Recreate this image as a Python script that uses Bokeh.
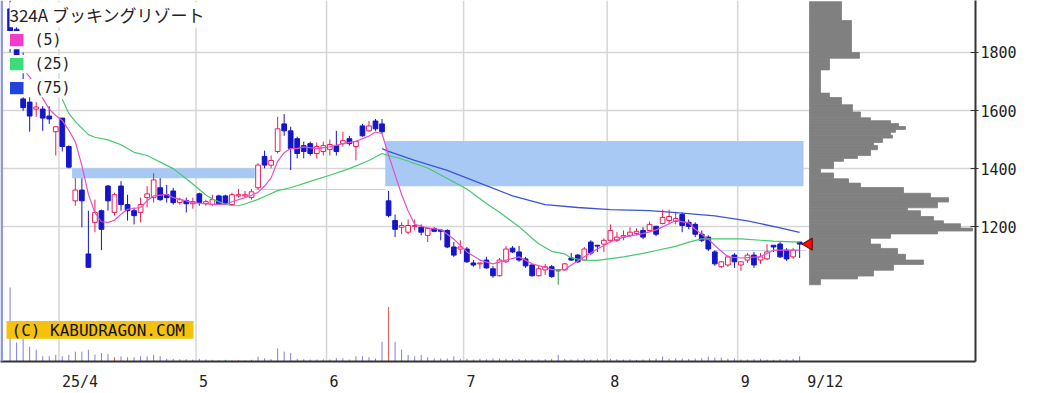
import math
from bokeh.plotting import figure
from bokeh.models import Range1d, FixedTicker, Label, Span, ColumnDataSource
from bokeh.embed import file_html
from bokeh.resources import INLINE
from bokeh.core.properties import value

# ---------------- data ----------------
TITLE = "324A ブッキングリゾート"
LEGEND_LABELS = ["(5)", "(25)", "(75)"]
COPYRIGHT = "(C) KABUDRAGON.COM"

opens = [1950, 1880, 1640, 1629, 1605, 1605, 1581, 1527, 1574, 1476,
         1289, 1326, 1106, 1215, 1255, 1340, 1249, 1340, 1276, 1255,
         1249, 1300, 1300, 1334, 1310, 1323, 1283, 1290, 1279, 1313,
         1279, 1276, 1306, 1306, 1276, 1306, 1306, 1300, 1334, 1442,
         1412, 1459, 1554, 1530, 1503, 1479, 1486, 1452, 1459, 1466,
         1479, 1486, 1503, 1476, 1547, 1530, 1564, 1554, 1289, 1221,
         1198, 1181, 1201, 1198, 1170, 1194, 1188, 1187, 1130, 1123,
         1123, 1075, 1072, 1085, 1055, 1031, 1079, 1126, 1113, 1089,
         1068, 1031, 1051, 1062, 1048, 1051, 1092, 1102, 1085, 1147,
         1136, 1140, 1153, 1153, 1164, 1170, 1177, 1187, 1187, 1201,
         1211, 1221, 1218, 1242, 1215, 1208, 1174, 1164, 1113, 1062,
         1068, 1102, 1068, 1085, 1102, 1085, 1089, 1136, 1140, 1119,
         1096, 1147]
highs = [1979, 1900, 1800, 1646, 1629, 1615, 1615, 1547, 1574, 1480,
         1367, 1367, 1255, 1293, 1259, 1344, 1317, 1357, 1310, 1266,
         1300, 1340, 1384, 1367, 1344, 1334, 1300, 1300, 1300, 1317,
         1293, 1310, 1310, 1310, 1317, 1330, 1323, 1330, 1418, 1462,
         1445, 1578, 1588, 1544, 1510, 1493, 1493, 1490, 1493, 1500,
         1530, 1527, 1513, 1496, 1554, 1564, 1571, 1571, 1323, 1242,
         1215, 1225, 1225, 1208, 1198, 1198, 1188, 1191, 1147, 1153,
         1130, 1085, 1075, 1096, 1065, 1092, 1133, 1133, 1133, 1096,
         1072, 1065, 1072, 1068, 1050, 1075, 1109, 1106, 1130, 1153,
         1136, 1160, 1208, 1181, 1187, 1198, 1194, 1198, 1218, 1204,
         1259, 1259, 1252, 1249, 1225, 1215, 1187, 1170, 1119, 1082,
         1102, 1109, 1082, 1109, 1113, 1109, 1140, 1136, 1147, 1126,
         1126, 1147]
lows = [1800, 1760, 1599, 1527, 1578, 1530, 1554, 1445, 1459, 1401,
        1272, 1198, 1058, 1181, 1119, 1255, 1238, 1255, 1221, 1208,
        1215, 1266, 1283, 1289, 1283, 1276, 1276, 1249, 1262, 1272,
        1272, 1272, 1276, 1276, 1272, 1300, 1300, 1293, 1327, 1401,
        1401, 1452, 1513, 1395, 1435, 1435, 1445, 1435, 1445, 1445,
        1445, 1476, 1479, 1428, 1510, 1527, 1530, 1520, 1232, 1164,
        1174, 1174, 1187, 1170, 1147, 1181, 1153, 1126, 1096, 1106,
        1075, 1062, 1055, 1055, 1024, 1028, 1075, 1109, 1079, 1058,
        1028, 1028, 1034, 1024, 1000, 1048, 1082, 1075, 1082, 1102,
        1113, 1113, 1147, 1147, 1153, 1164, 1170, 1157, 1181, 1167,
        1208, 1208, 1208, 1181, 1191, 1164, 1147, 1116, 1065, 1058,
        1062, 1058, 1048, 1075, 1058, 1072, 1085, 1113, 1092, 1082,
        1089, 1092]
closes = [1830, 1790, 1610, 1581, 1612, 1574, 1571, 1544, 1476, 1405,
          1326, 1289, 1060, 1249, 1191, 1289, 1310, 1276, 1255, 1238,
          1276, 1313, 1361, 1293, 1300, 1283, 1293, 1279, 1286, 1283,
          1286, 1293, 1279, 1279, 1310, 1310, 1310, 1320, 1412, 1412,
          1428, 1537, 1530, 1469, 1452, 1459, 1452, 1476, 1479, 1483,
          1459, 1496, 1486, 1493, 1513, 1547, 1537, 1527, 1238, 1191,
          1204, 1204, 1204, 1181, 1194, 1184, 1184, 1130, 1102, 1130,
          1079, 1068, 1075, 1058, 1031, 1085, 1123, 1113, 1085, 1065,
          1031, 1055, 1062, 1028, 1048, 1072, 1085, 1079, 1123, 1109,
          1133, 1153, 1187, 1164, 1170, 1181, 1184, 1164, 1208, 1174,
          1232, 1235, 1228, 1204, 1201, 1174, 1153, 1123, 1072, 1079,
          1096, 1079, 1079, 1102, 1068, 1096, 1113, 1130, 1096, 1089,
          1119, 1140]
# daily volume (thousand shares)
volumes = [750, 193, 250, 150, 120, 53, 53, 67, 53, 67,
           100, 100, 120, 70, 87, 77, 43, 53, 43, 43,
           53, 53, 67, 53, 27, 27, 23, 23, 20, 27,
           20, 17, 13, 17, 10, 13, 10, 17, 50, 33,
           23, 133, 100, 87, 27, 23, 20, 20, 23, 20,
           33, 33, 20, 53, 53, 43, 30, 200, 553, 200,
           120, 67, 53, 67, 43, 30, 30, 30, 53, 27,
           27, 20, 27, 23, 30, 30, 27, 23, 27, 23,
           20, 20, 23, 27, 67, 27, 20, 23, 27, 20,
           23, 20, 27, 23, 20, 23, 17, 20, 27, 30,
           50, 27, 33, 30, 27, 30, 33, 50, 40, 40,
           27, 30, 20, 20, 23, 27, 20, 17, 23, 20,
           27, 53]
vol_red_days = [16, 32, 35, 36, 58, 121]

month_start_idx = [8, 29, 49, 70, 92, 112]
month_labels = ["25/4", "5", "6", "7", "8", "9"]
last_label = "9/12"
price_ticks = [1200, 1400, 1600, 1800]

ma5_idx = [2, 3, 5, 6, 7, 8, 9, 10, 11, 12, 13, 14, 15, 16, 17, 18, 20, 21, 22, 24,
           25, 27, 28, 30, 31, 33, 34, 36, 37, 38, 39, 40, 41, 42, 43, 44, 45, 47, 49, 51,
           53, 55, 56, 57, 58, 59, 60, 61, 62, 64, 66, 67, 68, 70, 72, 74, 76, 78, 80, 82,
           83, 85, 86, 88, 90, 92, 94, 97, 99, 101, 102, 104, 105, 107, 108, 110, 112, 115,
           117, 119, 121]
ma5_val = [1743, 1716, 1642, 1605, 1583, 1566, 1532, 1492, 1410, 1312, 1248, 1217, 1215,
           1222, 1243, 1260, 1266, 1290, 1306, 1311, 1300, 1289, 1283, 1279, 1277, 1277,
           1286, 1300, 1308, 1318, 1340, 1368, 1425, 1455, 1469, 1469, 1475, 1469, 1475,
           1486, 1494, 1512, 1526, 1520, 1447, 1379, 1311, 1254, 1208, 1196, 1190, 1174,
           1157, 1113, 1085, 1072, 1085, 1096, 1072, 1060, 1052, 1052, 1068, 1096, 1123,
           1147, 1164, 1176, 1189, 1210, 1221, 1213, 1191, 1157, 1135, 1096, 1092, 1097,
           1119, 1119, 1119]
ma25_idx = [8, 9, 10, 12, 13, 15, 17, 19, 21, 22, 24, 25, 27, 28, 30, 31, 33, 34, 35, 36,
            38, 39, 41, 43, 46, 49, 52, 55, 57, 58, 60, 64, 70, 73, 75, 78, 80, 81, 83, 85,
            86, 88, 90, 92, 94, 97, 99, 102, 104, 106, 112, 117, 121]
ma25_val = [1639, 1590, 1562, 1517, 1508, 1499, 1482, 1456, 1445, 1434, 1411, 1400, 1365,
            1347, 1309, 1295, 1277, 1273, 1272, 1278, 1294, 1304, 1324, 1334, 1356, 1377,
            1400, 1428, 1452, 1445, 1433, 1402, 1330, 1280, 1250, 1200, 1160, 1141, 1115,
            1106, 1092, 1085, 1084, 1090, 1096, 1108, 1118, 1132, 1147, 1158, 1158, 1150,
            1147]
ma75_idx = [57, 58, 62, 67, 72, 77, 82, 87, 92, 98, 103, 108, 113, 118, 121]
ma75_val = [1469, 1459, 1428, 1394, 1350, 1306, 1276, 1266, 1259, 1255, 1247, 1237, 1220,
            1196, 1180]

# price gaps ("windows")
win_x0 = [9.5, 37.5, 57.5, 108]
win_x1 = [37.5, 57.5, 121.6, 122]
win_lo = [1367, 1326, 1339, 1116]
win_hi = [1401, 1330, 1495, 1120]
win_color = ["#a9c9f5", "#f2bcd4", "#a9c9f5", "#c4d4ec"]

# volume-at-price profile (bin edges, volume in thousand shares)
vp_edges = [1000, 1020, 1030, 1050, 1070, 1085, 1105, 1125, 1140, 1160, 1175, 1185, 1195,
            1210, 1220, 1235, 1255, 1265, 1285, 1300, 1315, 1335, 1350, 1365, 1385, 1400,
            1425, 1435, 1445, 1465, 1480, 1490, 1505, 1515, 1525, 1535, 1545, 1555, 1565,
            1575, 1595, 1620, 1645, 1660, 1740, 1780, 1800, 1910, 1975]
vp_volume = [110, 480, 640, 840, 1140, 960, 880, 710, 610, 810, 1280, 1630, 1510, 1340,
             1240, 1110, 980, 1280, 1390, 1210, 940, 510, 390, 240, 110, 240, 340, 480,
             610, 680, 640, 730, 830, 810, 860, 960, 890, 810, 610, 510, 430, 320, 200,
             110, 200, 500, 420, 320]

# ---------------- layout ----------------
W, H = 1049, 393
FRAME_W, FRAME_H = 975, 366
X0, X1 = -1.47, 147.95
Y0, Y1 = 735.6, 1979.0
PX = FRAME_W / (X1 - X0)


def xi(px):
    return X0 + px / PX


def yp(py):
    return Y1 - py * (Y1 - Y0) / FRAME_H


UP = "#e61e55"
DOWN = "#1515c8"
DOJI = "#2e9a3a"
C5, C25, C75 = "#e651c8", "#45c870", "#3a55d8"
MONO = "DejaVu Sans Mono"

p = figure(width=W, height=H, x_range=Range1d(X0, X1), y_range=Range1d(Y0, Y1),
           y_axis_location="right", output_backend="svg", toolbar_location=None,
           min_border_left=0, min_border_top=0, min_border_bottom=H - FRAME_H,
           min_border_right=W - FRAME_W, title=None)
p.outline_line_color = None
p.background_fill_color = "white"
p.border_fill_color = "white"
p.extra_y_ranges = {"vol": Range1d(0, 3660)}
p.extra_x_ranges = {"prof": Range1d(-8090, 1660)}

# grids
p.xgrid.visible = False
p.ygrid.ticker = FixedTicker(ticks=price_ticks)
p.ygrid.grid_line_color = "#d6d6d6"
p.ygrid.grid_line_width = 1.5
for m in month_start_idx:
    p.add_layout(Span(location=m - 0.5, dimension="height", line_color="#d6d6d6",
                      line_width=1.5, level="underlay"))
p.add_layout(Span(location=xi(1.2), dimension="height", line_color="#8d95e0",
                  line_width=2.5, level="overlay"))

# axes
labels_all = month_labels + [last_label]
left_idx = [m - 0.5 for m in month_start_idx] + [len(closes) - 1 + 0.7]
char_w = 9.03
tick_pos = [round(l + (3 + char_w * len(t) / 2) / PX, 2) for l, t in zip(left_idx, labels_all)]
p.xaxis.ticker = FixedTicker(ticks=tick_pos)
p.xaxis.major_label_overrides = {tp: t for tp, t in zip(tick_pos, labels_all)}
p.xaxis.major_tick_line_color = None
p.xaxis.minor_tick_line_color = None
p.xaxis.major_label_standoff = 5
p.xaxis.axis_line_color = "#333333"
p.xaxis.axis_line_width = 2
p.xaxis.major_label_text_font = MONO
p.xaxis.major_label_text_font_size = "15px"
p.xaxis.major_label_text_color = "#222222"

p.yaxis.ticker = FixedTicker(ticks=price_ticks)
p.yaxis.minor_tick_line_color = None
p.yaxis.major_tick_in = 5
p.yaxis.major_tick_out = 3
p.yaxis.major_tick_line_color = "#333333"
p.yaxis.major_label_standoff = 2
p.yaxis.axis_line_color = "#333333"
p.yaxis.axis_line_width = 2
p.yaxis.major_label_text_font = MONO
p.yaxis.major_label_text_font_size = "15px"
p.yaxis.major_label_text_color = "#222222"

# windows
p.quad(left=win_x0, right=win_x1, bottom=win_lo, top=win_hi, fill_color=win_color,
       line_color=None)

# volume profile
vp_lo = vp_edges[:-1]
vp_hi = vp_edges[1:]
p.hbar(y=[(a + b) / 2 for a, b in zip(vp_lo, vp_hi)], height=[b - a for a, b in zip(vp_lo, vp_hi)],
       left=0, right=vp_volume, x_range_name="prof", fill_color="#808080",
       line_color="#808080", line_width=0.8)

# volume bars
idx = list(range(len(closes)))
vcol = ["#e05a5a" if i in vol_red_days else "#7f7fe0" for i in idx]
p.segment(x0=idx, y0=[0] * len(idx), x1=idx, y1=volumes, y_range_name="vol",
          line_color=vcol, line_width=1)

# candles
ccol = [UP if c > o else (DOWN if c < o else DOJI) for o, c in zip(opens, closes)]
fcol = ["white" if c > o else col for o, c, col in zip(opens, closes, ccol)]
src = ColumnDataSource(dict(x=idx, o=opens, h=highs, l=lows, c=closes,
                            top=[max(o, c) for o, c in zip(opens, closes)],
                            bot=[min(o, c) for o, c in zip(opens, closes)],
                            col=ccol, fcol=fcol))
p.segment(x0="x", y0="l", x1="x", y1="h", line_color="col", line_width=1, source=src)
p.vbar(x="x", width=0.72, top="top", bottom="bot", fill_color="fcol", line_color="col",
       line_width=1, source=src)

# moving averages
p.line(ma75_idx, ma75_val, line_color=C75, line_width=1.3)
p.line(ma25_idx, ma25_val, line_color=C25, line_width=1.2)
p.line(ma5_idx, ma5_val, line_color=C5, line_width=1.2)

# last price marker
p.scatter(x=[len(closes) - 1 + 1.4], y=[closes[-1]], marker="triangle", angle=math.pi / 2,
          size=12, fill_color="#ee1111", line_color="#660000", line_width=1)

# legend (white row backgrounds, colour squares, labels)
sq_colors = ["#f03cc8", "#3ddc7a", "#2244dd"]
for k, (lab, col) in enumerate(zip(LEGEND_LABELS, sq_colors)):
    top_px = 34 + 24.3 * k
    p.quad(left=[xi(6)], right=[xi(31 + 9.03 * len(lab) + 4)], top=[yp(top_px - 3)],
           bottom=[yp(top_px + 15.5)], fill_color="white", line_color=None)
    p.quad(left=[xi(9.5)], right=[xi(23)], top=[yp(top_px)], bottom=[yp(top_px + 12.5)],
           fill_color=col, line_color=None)
    p.text(x=[xi(34)], y=[yp(top_px + 6.5)], text=[lab], text_font=value(MONO),
           text_font_size="15px", text_baseline="middle", text_color="#222222")

p.add_layout(Label(x=xi(9), y=yp(14.5), text=TITLE, text_font="Noto Sans CJK JP",
                   text_font_size="17px", text_baseline="middle", text_color="#222222",
                   background_fill_color="white"))

# copyright box
p.quad(left=[xi(6)], right=[xi(193)], top=[yp(325)], bottom=[yp(343)],
       fill_color="#f4c20d", line_color=None)
p.text(x=[xi(11)], y=[yp(334.5)], text=[COPYRIGHT], text_font=value(MONO),
       text_font_size="16px", text_baseline="middle", text_color="#111111")

open("out.html", "w").write(file_html(p, INLINE))
